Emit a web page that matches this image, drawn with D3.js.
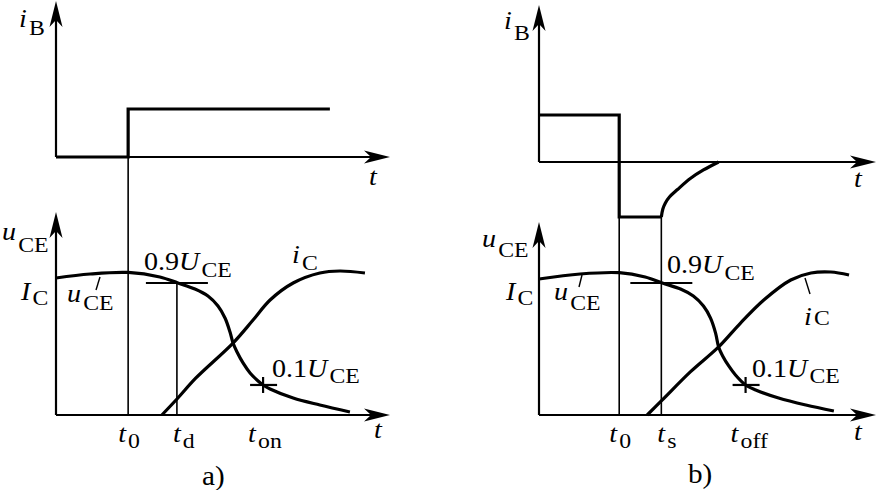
<!DOCTYPE html>
<html>
<head>
<meta charset="utf-8">
<script src="https://cdn.jsdelivr.net/npm/d3@7"></script>
<style>
  body { margin:0; background:#fff; }
  svg text { font-family: "Liberation Serif", "Times New Roman", serif; fill:#000; }
</style>
</head>
<body>
<svg id="chart" width="877" height="490"></svg>
<script>
// a) turn-on, b) turn-off. time in arbitrary units (0..10 along each t axis)
// amplitudes normalised: iB step = 1, IC plateau = 1
const ibOn = [[0,0],[2.16,0],[2.16,1],[8.2,1]];
const uceOn = [[0,0.958],[1.02,0.986],[2.16,0.997],[3.11,0.965],[3.65,0.923],[4.16,0.881],[4.55,0.832],
               [4.85,0.762],[5.06,0.678],[5.21,0.580],[5.30,0.503],[5.42,0.441],[5.60,0.364],[5.81,0.294],
               [6.05,0.238],[6.20,0.210],[6.41,0.182],[7.10,0.119],[7.90,0.070],[8.80,0.021]];
const icOn = [[3.17,0],[3.65,0.119],[4.19,0.259],[5.30,0.503],[5.90,0.664],[6.41,0.804],[7.10,0.923],
              [7.90,0.993],[8.50,1.007],[9.25,0.993]];
const onTimes = [2.16, 3.62, 6.20];
const onLabels = [["t","0"],["t","d"],["t","on"]];

const ibOff = [[0,1],[2.38,1],[2.38,-1.17],[3.63,-1.17]];
const ibOffTail = [[3.63,-1.17],[3.675,-1.0],[3.75,-0.872],[3.87,-0.745],[4.11,-0.585],[4.49,-0.351],
                   [4.88,-0.17],[5.33,0]];
const uceOff = [[0,0.951],[1.22,0.986],[2.38,0.995],[3.15,0.965],[3.66,0.923],[4.20,0.881],[4.58,0.832],
                [4.88,0.762],[5.09,0.678],[5.24,0.573],[5.33,0.476],[5.45,0.413],[5.63,0.343],[5.83,0.280],
                [6.13,0.210],[6.43,0.175],[7.11,0.119],[7.92,0.070],[8.75,0.028]];
const icOff = [[3.21,0],[3.66,0.105],[4.49,0.301],[5.33,0.476],[5.98,0.643],[6.67,0.804],[7.47,0.944],
               [8.07,0.993],[8.66,1.0],[9.20,0.979]];
const offTimes = [2.38, 3.63, 6.13];
const offLabels = [["t","0"],["t","s"],["t","off"]];

const hiLevel = 0.923;  // 0.9 U_CE mark
const loLevel = 0.21;   // 0.1 U_CE mark

const svg = d3.select("#chart");
svg.append("rect").attr("width", 877).attr("height", 490).attr("fill", "#fff");

function arrowUp(g, x, y) {
  g.append("path").attr("d", `M${x},${y}L${x-6.5},${y+26}L${x},${y+19}L${x+6.5},${y+26}Z`).attr("fill", "#000");
}
function arrowRight(g, x, y) {
  g.append("path").attr("d", `M${x},${y}L${x-26},${y-6.5}L${x-19},${y}L${x-26},${y+6.5}Z`).attr("fill", "#000");
}
function seg(g, x1, y1, x2, y2, w) {
  g.append("line").attr("x1", x1).attr("y1", y1).attr("x2", x2).attr("y2", y2)
    .attr("stroke", "#000").attr("stroke-width", w);
}
// parts: [text, kind] kind: i italic, r roman, s subscript
function lab(g, x, y, parts, dy, size) {
  size = size || 26;
  const t = g.append("text").attr("transform", `translate(${x},${y}) scale(1.08,1)`).attr("font-size", size);
  let down = false;
  parts.forEach(p => {
    const s = t.append("tspan").text(p[0]);
    if (p[1] === "i") s.attr("font-style", "italic");
    if (p[1] === "s") {
      s.attr("font-size", 22).attr("dx", 2);
      if (!down) { s.attr("dy", dy); down = true; }
    }
  });
  return t;
}

function panel(cfg) {
  const g = svg.append("g");
  const x = d3.scaleLinear().domain([0, 10]).range([cfg.x0, cfg.x1]);
  const yTop = d3.scaleLinear().domain([0, 1]).range([cfg.topAxis, cfg.topAxis - cfg.topUnit]);
  const yBot = d3.scaleLinear().domain([0, 1]).range([415, 272]);
  const lineTop = d3.line().x(d => x(d[0])).y(d => yTop(d[1]));
  const curveBot = d3.line().x(d => x(d[0])).y(d => yBot(d[1])).curve(d3.curveCatmullRom.alpha(0.5));

  // thin time markers
  cfg.times.forEach((t, i) => {
    if (cfg.markFrom[i] == null) return;
    const y1 = cfg.markFrom[i] === "hi" ? yBot(hiLevel) : yTop(cfg.markFrom[i]);
    seg(g, x(t), y1, x(t), yBot(0), 1.6);
  });

  // axes
  seg(g, x(0), yTop(0), x(0), cfg.topTip + 8, 2.2);
  arrowUp(g, x(0), cfg.topTip);
  seg(g, x(0), yTop(0), cfg.x1 - 8, yTop(0), 2.2);
  arrowRight(g, cfg.x1, yTop(0));
  seg(g, x(0), yBot(0), x(0), cfg.botTip + 8, 2.2);
  arrowUp(g, x(0), cfg.botTip);
  seg(g, x(0), yBot(0), cfg.x1 - 8, yBot(0), 2.2);
  arrowRight(g, cfg.x1, yBot(0));

  // iB
  g.append("path").attr("d", lineTop(cfg.ib)).attr("fill", "none")
    .attr("stroke", "#000").attr("stroke-width", 3.2).attr("stroke-linejoin", "miter");
  if (cfg.ibTail) {
    g.append("path").attr("d", lineTop.curve(d3.curveCatmullRom.alpha(0.5))(cfg.ibTail)).attr("fill", "none")
      .attr("stroke", "#000").attr("stroke-width", 3.2);
  }

  // uCE and iC
  [cfg.uce, cfg.ic].forEach(d => {
    g.append("path").attr("d", curveBot(d)).attr("fill", "none")
      .attr("stroke", "#000").attr("stroke-width", 3.2);
  });

  // 0.9 and 0.1 marks
  const tHi = cfg.times[1], tLo = cfg.times[2];
  seg(g, x(tHi) - 31, yBot(hiLevel), x(tHi) + 31, yBot(hiLevel), 2.2);
  seg(g, x(tLo) - 13, yBot(loLevel), x(tLo) + 14, yBot(loLevel), 2.2);
  seg(g, x(tLo), yBot(loLevel) - 8, x(tLo), yBot(loLevel) + 8, 2.2);

  // time labels
  const dxs = [-10, -4, -15];
  cfg.times.forEach((t, i) => {
    lab(g, x(t) + dxs[i], 442, [[cfg.labels[i][0], "i"], [cfg.labels[i][1], "s"]], 6);
  });
  return { g, x, yTop, yBot };
}

const a = panel({ x0: 56, x1: 390, topAxis: 157, topUnit: 48, topTip: 1, botTip: 212,
  ib: ibOn, uce: uceOn, ic: icOn, times: onTimes, labels: onLabels, markFrom: [1, "hi", null] });
const b = panel({ x0: 539, x1: 876, topAxis: 162, topUnit: 47, topTip: 5, botTip: 222,
  ib: ibOff, ibTail: ibOffTail, uce: uceOff, ic: icOff, times: offTimes, labels: offLabels,
  markFrom: [-1.17, -1.17, null] });

// panel a labels
lab(a.g, 19, 27, [["i","i"],["B","s"]], 8);
lab(a.g, 369, 185, [["t","i"]]);
lab(a.g, 2, 240, [["u","i"],["CE","s"]], 12);
lab(a.g, 21, 300, [["I","i"],["C","s"]], 5);
lab(a.g, 67, 302, [["u","i"],["CE","s"]], 8);
seg(a.g, 100, 277, 96, 290, 1.4);
lab(a.g, 144, 270, [["0.9","r"],["U","i"],["CE","s"]], 7);
lab(a.g, 292, 263, [["i","i"],["C","s"]], 7);
lab(a.g, 272, 377, [["0.1","r"],["U","i"],["CE","s"]], 6);
lab(a.g, 374, 438, [["t","i"]]);
lab(a.g, 202, 485, [["a)","r"]], 0, 27);

// panel b labels
lab(b.g, 504, 29, [["i","i"],["B","s"]], 11);
lab(b.g, 854, 187, [["t","i"]]);
lab(b.g, 482, 247, [["u","i"],["CE","s"]], 10);
lab(b.g, 506, 300, [["I","i"],["C","s"]], 5);
lab(b.g, 554, 300, [["u","i"],["CE","s"]], 10);
seg(b.g, 582, 275, 579, 287, 1.4);
lab(b.g, 667, 273, [["0.9","r"],["U","i"],["CE","s"]], 7);
lab(b.g, 804, 325, [["i","i"],["C","s"]], 0);
seg(b.g, 805, 278, 810, 294, 1.4);
lab(b.g, 752, 377, [["0.1","r"],["U","i"],["CE","s"]], 6);
lab(b.g, 854, 440, [["t","i"]]);
lab(b.g, 688, 483, [["b)","r"]], 0, 27);
</script>
</body>
</html>
